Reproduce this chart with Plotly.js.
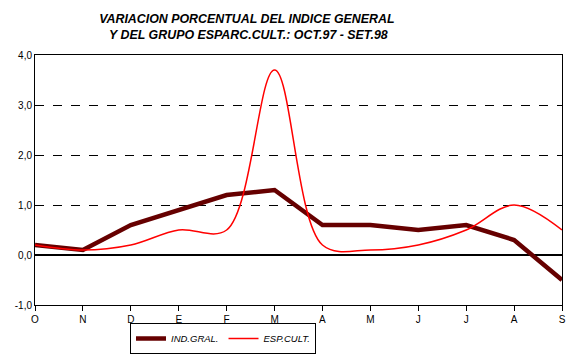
<!DOCTYPE html>
<html>
<head>
<meta charset="utf-8">
<script src="https://cdn.plot.ly/plotly-3.0.1.min.js"></script>
<style>html,body{margin:0;padding:0;background:#fff;}#chart{width:574px;height:355px;}</style>
</head>
<body>
<div id="chart"></div>
<script>
const months = ["O","N","D","E","F","M","A","M","J","J","A","S"];
const indGral = [0.2, 0.1, 0.6, 0.9, 1.2, 1.3, 0.6, 0.6, 0.5, 0.6, 0.3, -0.5];
const espCult = [0.2, 0.1, 0.2, 0.5, 0.5, 3.7, 0.2, 0.1, 0.2, 0.5, 1.0, 0.5];
const yTicks = [-1, 0, 1, 2, 3, 4];
const yTickText = ["-1,0", "0,0", "1,0", "2,0", "3,0", "4,0"];
const xIdx = months.map((m, i) => i);

const font = {family: "Liberation Sans, Arial, sans-serif", color: "#000"};

const traces = [
  {x: xIdx, y: indGral, name: "IND.GRAL.", type: "scatter", mode: "lines",
   line: {color: "#660000", width: 4.5}},
  {x: xIdx, y: espCult, name: "ESP.CULT.", type: "scatter", mode: "lines",
   line: {color: "#ff0000", width: 1.5, shape: "spline", smoothing: 1}}
];

const layout = {
  width: 574, height: 355,
  paper_bgcolor: "#fff", plot_bgcolor: "#fff",
  margin: {l: 35, r: 12, t: 55, b: 50},
  font: Object.assign({size: 10}, font),
  title: {
    text: "VARIACION PORCENTUAL DEL INDICE GENERAL<br> Y DEL GRUPO ESPARC.CULT.: OCT.97 - SET.98",
    font: Object.assign({size: 12.4, weight: "bold", style: "italic"}, font),
    x: 0.43, xanchor: "center", y: 0.935, yanchor: "top"
  },
  xaxis: {
    range: [0, 11], tickvals: xIdx, ticktext: months,
    showgrid: false, zeroline: false,
    showline: true, linecolor: "#000", linewidth: 1, mirror: true,
    ticks: "outside", ticklen: 5, tickcolor: "#000",
    tickfont: Object.assign({size: 10}, font), fixedrange: true
  },
  yaxis: {
    range: [-1, 4], tickvals: yTicks, ticktext: yTickText,
    showgrid: true, gridcolor: "#000", griddash: "dash", gridwidth: 1,
    zeroline: true, zerolinecolor: "#000", zerolinewidth: 1.5,
    showline: true, linecolor: "#000", linewidth: 1, mirror: true,
    ticks: "", tickfont: Object.assign({size: 10}, font), fixedrange: true
  },
  showlegend: true,
  legend: {
    orientation: "h", xref: "container", yref: "container",
    x: 130 / 574, xanchor: "left", y: 1 - 354 / 355, yanchor: "bottom",
    bordercolor: "#000", borderwidth: 1, bgcolor: "rgba(255,255,255,0)",
    font: Object.assign({size: 9.5, style: "italic"}, font),
    itemwidth: 30, tracegroupgap: 0
  }
};

Plotly.newPlot("chart", traces, layout, {displayModeBar: false, staticPlot: true});
</script>
</body>
</html>
